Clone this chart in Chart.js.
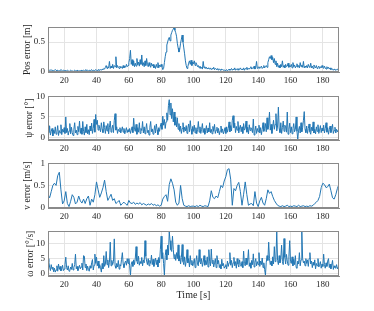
<!DOCTYPE html>
<html>
<head>
<meta charset="utf-8">
<script src="https://cdn.jsdelivr.net/npm/chart.js@4.4.0/dist/chart.umd.min.js"></script>
<style>
  html, body { margin: 0; padding: 0; background: #fff; overflow: hidden; }
  #wrap { position: relative; width: 374px; height: 311px; }
  .panel { position: absolute; left: 0; width: 374px; }
</style>
</head>
<body>
<div id="wrap">
  <div class="panel" style="top:19px"><canvas id="c1" width="374" height="69"></canvas></div>
  <div class="panel" style="top:88px"><canvas id="c2" width="374" height="68"></canvas></div>
  <div class="panel" style="top:155px"><canvas id="c3" width="374" height="69"></canvas></div>
  <div class="panel" style="top:223px"><canvas id="c4" width="374" height="85"></canvas></div>
</div>
<script>
// sample times: 0.5 s grid for the noisy signals, 1 s grid for velocity
const timeFine = Array.from({ length: 361 }, (_, i) => 10 + i * 0.5);
const timeCoarse = Array.from({ length: 181 }, (_, i) => 10 + i);
const xTicks = [20, 40, 60, 80, 100, 120, 140, 160, 180];

// position error [m]
const posError = [
  0.03,0.02,0.01,0.02,0.03,0.01,0.02,0.01,0.02,0.03,0.02,0.01,0.02,0.01,0.01,0.02,0.03,0.02,0.01,0.02,
  0.01,0.02,0.01,0.01,0.02,0.01,0.00,0.01,0.02,0.01,0.01,0.00,0.01,0.02,0.01,0.01,0.02,0.01,0.00,0.01,
  0.01,0.02,0.01,0.01,0.02,0.01,0.02,0.03,0.01,0.02,0.01,0.02,0.01,0.02,0.03,0.01,0.02,0.01,0.02,0.03,
  0.02,0.01,0.03,0.02,0.02,0.03,0.02,0.04,0.03,0.05,0.04,0.07,0.10,0.05,0.08,0.06,0.17,0.05,0.09,0.06,
  0.12,0.05,0.10,0.08,0.25,0.06,0.10,0.07,0.05,0.09,0.06,0.08,0.05,0.10,0.06,0.09,0.07,0.12,0.08,0.10,
  0.15,0.22,0.36,0.12,0.20,0.10,0.18,0.08,0.14,0.09,0.22,0.11,0.16,0.09,0.20,0.12,0.28,0.10,0.15,0.08,
  0.18,0.10,0.22,0.12,0.08,0.15,0.10,0.07,0.14,0.09,0.12,0.06,0.10,0.05,0.12,0.07,0.15,0.06,0.11,0.08,
  0.12,0.08,0.03,0.05,0.15,0.25,0.33,0.45,0.50,0.55,0.58,0.52,0.62,0.66,0.70,0.72,0.75,0.70,0.66,0.60,
  0.48,0.40,0.33,0.38,0.48,0.55,0.62,0.50,0.40,0.30,0.18,0.10,0.05,0.08,0.14,0.18,0.12,0.19,0.10,0.16,
  0.13,0.18,0.10,0.15,0.12,0.08,0.10,0.06,0.09,0.05,0.07,0.04,0.17,0.06,0.08,0.05,0.07,0.04,0.06,0.05,
  0.04,0.06,0.03,0.05,0.04,0.07,0.03,0.05,0.04,0.03,0.05,0.02,0.04,0.03,0.02,0.04,0.03,0.02,0.03,0.01,
  0.02,0.03,0.01,0.02,0.04,0.02,0.03,0.05,0.02,0.04,0.03,0.06,0.02,0.04,0.03,0.05,0.02,0.04,0.06,0.03,
  0.04,0.03,0.06,0.02,0.05,0.04,0.07,0.03,0.05,0.04,0.06,0.08,0.04,0.06,0.05,0.09,0.04,0.07,0.17,0.05,
  0.06,0.08,0.05,0.07,0.09,0.05,0.07,0.10,0.06,0.08,0.10,0.07,0.15,0.20,0.25,0.22,0.27,0.20,0.24,0.15,
  0.22,0.12,0.18,0.08,0.14,0.07,0.10,0.06,0.12,0.08,0.18,0.07,0.10,0.06,0.12,0.08,0.09,0.14,0.07,0.10,
  0.08,0.12,0.06,0.15,0.08,0.11,0.06,0.09,0.13,0.07,0.10,0.06,0.15,0.08,0.11,0.07,0.17,0.06,0.09,0.07,
  0.10,0.06,0.12,0.08,0.07,0.14,0.06,0.09,0.05,0.11,0.08,0.06,0.10,0.05,0.07,0.09,0.05,0.08,0.06,0.10,
  0.07,0.05,0.09,0.06,0.04,0.08,0.05,0.07,0.04,0.06,0.03,0.05,0.04,0.02,0.04,0.03,0.02,0.03,0.04,0.02,
  0.04
];

// heading error [deg]
const psiError = [
  3.0,1.2,2.8,0.6,1.5,2.2,0.4,1.8,1.0,2.6,0.8,1.4,2.9,0.5,1.7,1.1,3.1,0.7,2.0,1.3,
  2.4,1.0,5.0,1.2,2.2,0.6,1.6,3.4,0.9,2.5,1.2,0.5,2.0,3.6,1.1,1.8,0.7,2.7,1.4,4.0,
  1.0,2.3,0.8,3.9,1.5,0.6,2.6,1.2,3.2,0.9,1.9,0.7,2.8,1.6,3.5,1.0,2.2,4.4,1.3,5.6,
  3.2,4.2,1.8,3.0,2.2,1.4,3.6,2.0,1.2,3.8,2.4,1.0,2.9,1.6,3.4,0.9,2.5,4.0,1.3,2.1,
  3.0,1.2,4.2,5.8,1.8,2.6,1.0,2.0,1.5,2.4,1.1,1.8,2.6,1.3,2.2,0.9,1.7,2.4,1.2,1.9,
  1.4,2.2,1.0,1.8,2.6,1.2,4.7,2.0,1.5,3.2,0.8,2.4,1.3,3.6,1.0,2.2,1.7,3.9,1.1,2.6,
  0.9,2.0,3.4,1.2,1.8,0.6,2.5,3.9,1.4,2.1,0.8,1.6,2.9,1.1,3.3,1.9,0.7,2.4,1.5,2.8,
  3.5,2.0,5.2,3.0,4.4,2.2,3.8,6.0,4.2,7.8,9.2,5.5,8.4,4.6,7.0,3.8,6.2,3.0,5.0,2.6,
  4.8,2.0,3.4,1.5,2.8,1.0,2.2,3.6,1.3,2.5,1.6,2.9,1.0,2.3,3.3,1.4,4.1,2.0,0.8,2.7,
  1.5,3.0,1.1,2.4,0.9,1.9,3.9,1.3,2.6,1.0,2.0,3.4,1.2,2.2,0.8,1.7,2.9,1.1,2.3,1.4,
  3.6,1.2,2.0,0.9,2.7,1.5,3.2,1.0,1.8,2.5,1.1,2.2,0.7,1.6,2.8,1.2,2.1,0.9,1.5,2.4,
  1.0,2.6,1.3,2.2,3.8,1.4,2.9,1.6,4.2,5.3,2.4,3.5,1.2,2.7,1.8,3.9,1.1,2.3,3.0,1.4,
  2.6,1.0,3.4,1.8,2.2,4.0,1.3,2.5,0.9,3.1,1.7,2.4,2.0,1.2,4.5,0.6,1.6,2.8,1.0,2.2,
  1.4,3.0,1.1,2.4,0.7,2.0,3.6,1.5,2.2,3.4,1.4,4.8,2.0,3.0,6.2,1.8,3.2,1.0,2.6,4.2,
  2.0,3.2,5.8,1.6,2.8,7.4,2.2,1.2,3.6,1.0,2.4,4.0,1.5,3.0,2.6,1.3,6.2,0.8,2.0,3.5,
  1.2,2.6,0.9,2.2,3.4,1.4,2.0,5.0,1.5,-0.4,1.8,2.7,1.1,3.6,1.4,2.4,4.2,6.3,2.0,1.2,
  2.8,1.0,2.2,3.3,1.4,0.8,2.5,1.6,3.8,1.1,2.0,0.9,2.6,1.5,3.1,1.0,1.8,2.9,1.2,2.3,
  1.6,3.0,1.1,2.2,3.6,1.3,2.4,0.8,1.9,2.8,1.2,2.0,3.2,1.0,1.7,2.5,1.1,2.0,1.4,1.8,
  1.5
];

// velocity error [m/s], 1 s grid
const velError = [
  0.29,0.22,0.36,0.50,0.55,0.50,0.72,0.80,0.40,0.08,
  0.15,0.36,0.09,0.02,0.14,0.29,0.23,0.08,0.12,0.26,
  0.15,0.10,0.19,0.09,0.20,0.26,0.05,0.19,0.12,0.29,
  0.58,0.40,0.23,0.33,0.45,0.62,0.36,0.16,0.23,0.30,
  0.16,0.20,0.09,0.12,0.16,0.05,0.09,0.12,0.08,0.05,
  0.16,0.10,0.09,0.12,0.07,0.10,0.08,0.11,0.06,0.09,
  0.07,0.05,0.08,0.06,0.09,0.05,0.07,0.04,0.06,0.03,
  0.05,0.19,0.25,0.29,0.14,0.52,0.65,0.55,0.40,0.12,
  0.05,0.10,0.50,0.20,0.05,0.03,0.02,0.04,0.02,0.03,
  0.03,0.02,0.04,0.02,0.05,0.03,0.02,0.04,0.03,0.02,
  0.15,0.38,0.23,0.20,0.26,0.22,0.36,0.50,0.45,0.60,
  0.70,0.86,0.88,0.64,0.05,0.43,0.38,0.50,0.57,0.36,
  0.05,0.30,0.58,0.29,0.05,0.08,0.09,0.04,0.36,0.10,
  0.02,0.15,0.23,0.10,0.05,0.20,0.40,0.32,0.36,0.25,
  0.16,0.10,0.05,0.03,0.02,0.04,0.02,0.03,0.05,0.02,
  0.03,0.02,0.04,0.03,0.02,0.05,0.02,0.03,0.04,0.02,
  0.03,0.02,0.04,0.03,0.05,0.09,0.12,0.16,0.25,0.45,
  0.55,0.52,0.45,0.47,0.53,0.38,0.22,0.19,0.29,0.43,
  0.53
];

// yaw-rate error [deg/s]
const omegaError = [
  5.0,4.0,2.2,1.0,3.0,1.5,2.2,0.6,1.8,0.5,1.2,2.6,0.8,3.2,1.4,2.4,0.9,1.6,2.8,1.0,
  1.5,3.0,5.5,2.0,1.2,2.6,0.8,1.0,2.2,1.4,3.4,1.2,2.0,3.0,6.5,1.6,2.4,1.0,1.8,2.8,
  1.6,2.2,3.5,1.2,6.0,5.8,2.0,3.2,1.0,2.5,1.4,0.8,2.6,1.8,3.6,4.7,1.2,2.8,6.5,3.4,
  5.5,2.6,4.2,1.8,3.0,2.0,0.5,3.4,1.6,6.0,2.4,3.2,7.4,3.0,4.6,2.0,3.8,10.5,2.6,4.4,
  3.0,4.0,11.6,2.6,1.8,3.4,2.2,4.4,1.5,3.0,2.5,4.8,7.0,3.2,2.0,3.6,4.2,2.8,5.0,3.4,
  5.0,2.6,-0.5,3.2,4.0,2.4,4.6,3.0,5.2,9.0,4.2,3.2,5.8,2.8,4.0,3.4,5.4,2.6,4.6,3.6,
  11.0,5.8,4.2,3.0,5.0,2.6,4.4,3.4,6.2,3.0,4.8,2.4,3.8,5.2,3.0,4.6,2.2,5.4,3.6,8.0,
  12.5,5.0,7.0,3.4,-0.5,6.0,8.0,4.6,9.5,6.2,14.0,11.0,8.0,7.4,12.5,8.0,5.0,6.4,4.4,7.0,
  5.0,9.6,4.2,6.0,3.2,5.4,9.7,4.0,3.0,5.6,2.4,4.2,8.0,3.6,5.0,2.2,6.0,3.0,4.4,2.6,
  3.4,5.0,2.0,4.2,6.0,3.0,2.6,8.0,4.0,3.2,5.0,2.4,3.8,6.0,2.8,4.4,3.0,5.6,2.2,8.0,
  4.0,2.6,8.2,3.4,4.6,2.2,3.6,5.0,2.0,6.0,3.2,4.4,2.0,3.0,1.6,4.8,2.6,3.4,1.8,2.4,
  3.0,1.6,4.2,2.4,3.6,7.0,2.8,4.4,2.0,3.6,5.4,2.6,4.0,1.8,5.0,3.2,2.2,4.6,3.0,2.4,
  4.0,2.0,7.5,3.4,2.6,5.2,3.0,4.2,8.0,2.4,3.6,1.8,4.4,3.0,6.6,2.2,3.8,5.0,2.6,4.0,
  3.0,7.0,2.4,4.2,3.0,5.2,2.0,3.6,1.4,-0.5,3.8,6.0,4.4,10.5,5.0,3.0,4.2,2.6,5.6,3.2,
  9.0,4.0,5.2,14.0,4.4,3.0,6.0,3.6,5.0,9.5,4.0,3.0,11.7,5.4,3.2,6.4,4.2,2.8,5.6,11.0,
  4.0,3.4,5.6,2.6,4.8,3.0,6.0,2.0,1.8,4.2,3.2,7.0,2.6,4.6,14.0,5.0,3.6,4.2,2.6,5.0,
  3.4,4.6,2.4,5.0,7.0,3.2,4.2,2.0,3.8,2.8,4.6,1.6,3.4,2.6,5.0,2.2,3.0,4.0,1.8,3.2,
  2.4,6.5,3.0,1.8,3.6,2.4,4.2,5.0,2.0,3.2,1.6,2.8,4.4,1.4,2.6,2.0,1.8,3.0,1.6,2.2,
  2.0
];

const LINE = '#2377b4';
const GRID = '#e4e4e4';
const BOX = '#8a8a8a';
const TXT = '#262626';
const FONT = 'Liberation Serif';

// draw the full axes box like matlab's "box on"
const boxPlugin = {
  id: 'box',
  afterDatasetsDraw(chart) {
    const a = chart.chartArea, ctx = chart.ctx;
    ctx.save();
    ctx.strokeStyle = BOX;
    ctx.lineWidth = 1;
    ctx.strokeRect(Math.round(a.left) + 0.5, Math.round(a.top) + 0.5,
                   Math.round(a.right - a.left) - 1, Math.round(a.bottom - a.top) - 1);
    ctx.restore();
  }
};

function makePanel(id, times, values, yLabel, yMin, yMax, yTicks, titleGap, isLast) {
  return new Chart(document.getElementById(id), {
    type: 'line',
    data: {
      datasets: [{
        data: values.map((v, i) => ({ x: times[i], y: v })),
        borderColor: LINE,
        borderWidth: 1,
        pointRadius: 0,
        tension: 0
      }]
    },
    options: {
      animation: false, responsive: false, events: [],
      layout: { padding: { top: 4, right: 35, left: 0, bottom: 0 } },
      plugins: { legend: { display: false }, tooltip: { enabled: false } },
      scales: {
        x: {
          type: 'linear', min: 10, max: 190,
          afterBuildTicks: s => { s.ticks = xTicks.map(v => ({ value: v })); },
          afterFit: s => { s.height = isLast ? 32 : 16; },
          grid: { color: GRID, drawTicks: false },
          border: { color: BOX },
          ticks: { color: TXT, font: { family: FONT, size: 9 }, padding: 3, maxRotation: 0 },
          title: {
            display: isLast, text: 'Time [s]', color: TXT,
            font: { family: FONT, size: 10 }, padding: { top: 0, bottom: 7 }
          }
        },
        y: {
          min: yMin, max: yMax,
          afterBuildTicks: s => { s.ticks = yTicks.map(v => ({ value: v })); },
          afterFit: s => { s.width = 48; },
          grid: { color: GRID, drawTicks: false },
          border: { color: BOX },
          ticks: {
            color: TXT, font: { family: FONT, size: 9 }, padding: 3,
            callback: v => String(v)
          },
          title: {
            display: true, text: yLabel, color: TXT,
            font: { family: FONT, size: 9.5 }, padding: { top: titleGap, bottom: 0 }
          }
        }
      }
    },
    plugins: [boxPlugin]
  });
}

makePanel('c1', timeFine, posError, 'Pos error [m]', -0.01, 0.75, [0, 0.5], 22, false);
makePanel('c2', timeFine, psiError, 'ψ error [°]', -0.6, 10, [0, 5, 10], 24, false);
makePanel('c3', timeCoarse, velError, 'v error [m/s]', -0.012, 1, [0, 0.5, 1], 22, false);
makePanel('c4', timeFine, omegaError, 'ω error [°/s]', -0.8, 14.1, [0, 5, 10], 25, true);
</script>
</body>
</html>
